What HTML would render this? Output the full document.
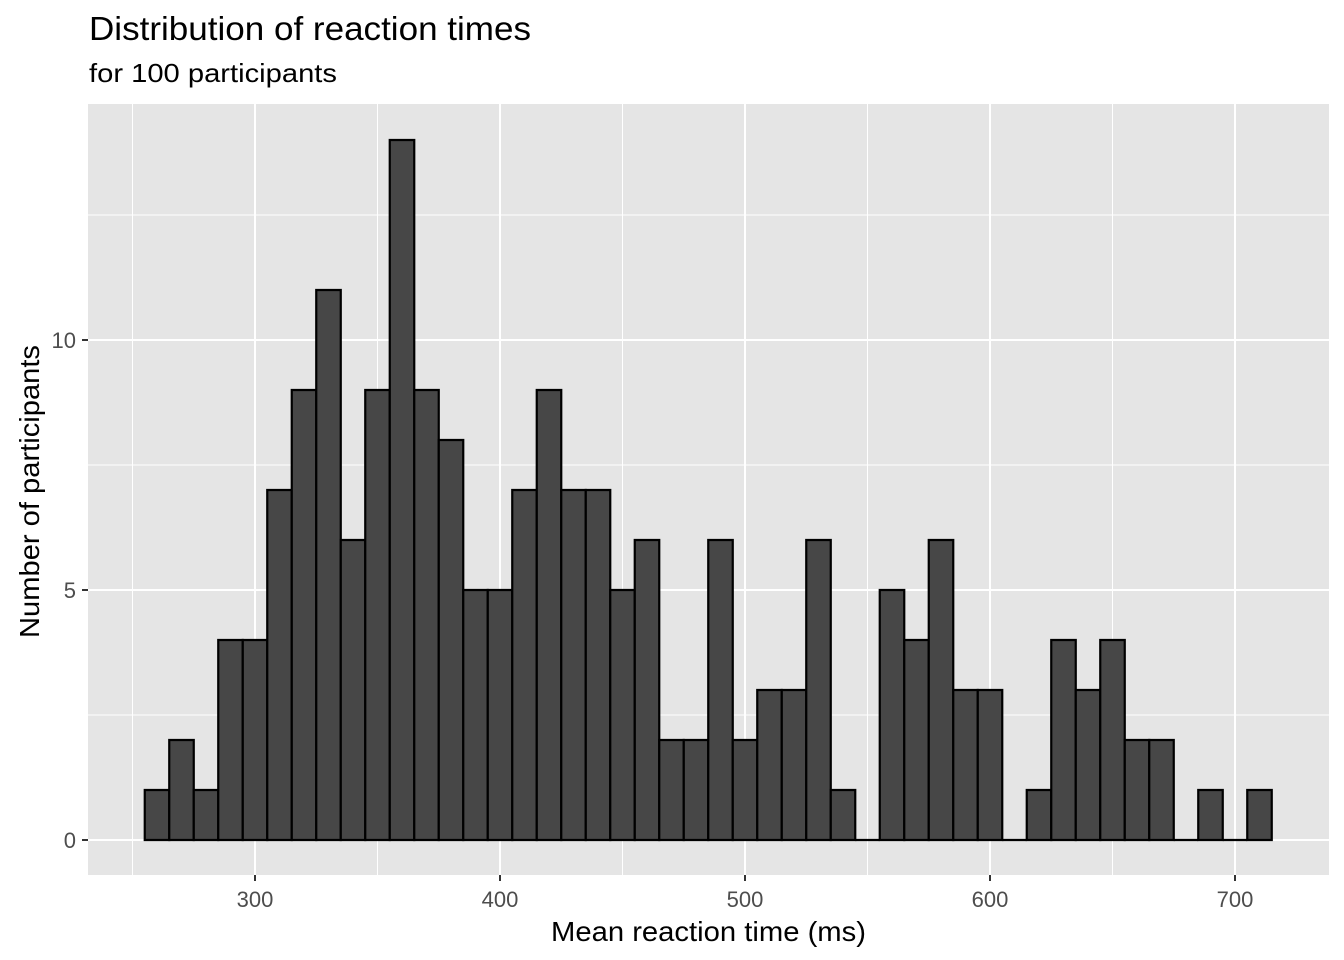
<!DOCTYPE html>
<html><head><meta charset="utf-8"><style>
body{margin:0;background:#fff;}
svg{display:block;font-family:"Liberation Sans",Arial,sans-serif;}
</style></head><body>
<svg id="chart" width="1344" height="960">
<text x="89" y="40" font-size="33" textLength="442" lengthAdjust="spacingAndGlyphs" fill="#000">Distribution of reaction times</text>
<text x="89" y="82" font-size="26" textLength="248" lengthAdjust="spacingAndGlyphs" fill="#000">for 100 participants</text>
<rect x="88" y="104" width="1241" height="771" fill="#e5e5e5"/>
<g id="grid"></g><g id="bars"></g><g id="axes"></g>
<text x="551" y="941" font-size="28" textLength="315" lengthAdjust="spacingAndGlyphs" fill="#000">Mean reaction time (ms)</text>
<text transform="translate(39,638) rotate(-90)" font-size="28" textLength="293" lengthAdjust="spacingAndGlyphs" fill="#000">Number of participants</text>
</svg>
<script>
const binStarts = [255,265,275,285,295,305,315,325,335,345,355,365,375,385,395,405,415,425,435,445,455,465,475,485,495,505,515,525,535,545,555,565,575,585,595,605,615,625,635,645,655,665,675,685,695,705];
const counts = [1,2,1,4,4,7,9,11,6,9,14,9,8,5,5,7,9,7,7,5,6,2,2,6,2,3,3,6,1,0,5,4,6,3,3,0,1,4,3,4,2,2,0,1,0,1];
const binWidth = 10;
const xTicks = [300,400,500,600,700];
const xMinor = [250,350,450,550,650];
const yTicks = [0,5,10];
const yMinor = [2.5,7.5,12.5];
const NS="http://www.w3.org/2000/svg";
const px0=88, px1=1329, py0=104, py1=875;
const xs=v=>255+(v-300)*2.45;
const ys=v=>840-v*50;
function mk(tag,attrs,parent){const e=document.createElementNS(NS,tag);for(const k in attrs)e.setAttribute(k,attrs[k]);parent.appendChild(e);return e;}
const grid=document.getElementById('grid'),bars=document.getElementById('bars'),axes=document.getElementById('axes');
xMinor.forEach(v=>{const l=mk('line',{x1:xs(v),x2:xs(v),y1:py0,y2:py1,stroke:'#fff','stroke-width':1},grid);

});
yMinor.forEach(v=>{const l=mk('line',{x1:px0,x2:px1,y1:ys(v),y2:ys(v),stroke:'#fff','stroke-width':1},grid);

});
xTicks.forEach(v=>{const l=mk('line',{x1:xs(v),x2:xs(v),y1:py0,y2:py1,stroke:'#fff','stroke-width':2},grid);


const t=mk('line',{x1:xs(v),x2:xs(v),y1:py1,y2:py1+6,stroke:'#333','stroke-width':2},axes);


const tx=mk('text',{x:xs(v),y:907,'font-size':22,'text-anchor':'middle',fill:'#4d4d4d'},axes);tx.textContent=v;

});
yTicks.forEach(v=>{const l=mk('line',{x1:px0,x2:px1,y1:ys(v),y2:ys(v),stroke:'#fff','stroke-width':2},grid);


const t=mk('line',{x1:px0-6,x2:px0,y1:ys(v),y2:ys(v),stroke:'#333','stroke-width':2},axes);


const tx=mk('text',{x:px0-12,y:ys(v)+8,'font-size':22,'text-anchor':'end',fill:'#4d4d4d'},axes);tx.textContent=v;

});
binStarts.forEach((b,i)=>{const x0=xs(b),x1=xs(b+binWidth),y=ys(counts[i]),y0=ys(0);
const r=mk('path',{d:`M${x0} ${y0} L${x0} ${y} L${x1} ${y} L${x1} ${y0} Z`,fill:'#474747',stroke:'#000','stroke-width':2.2},bars);

});
</script>
</body></html>
